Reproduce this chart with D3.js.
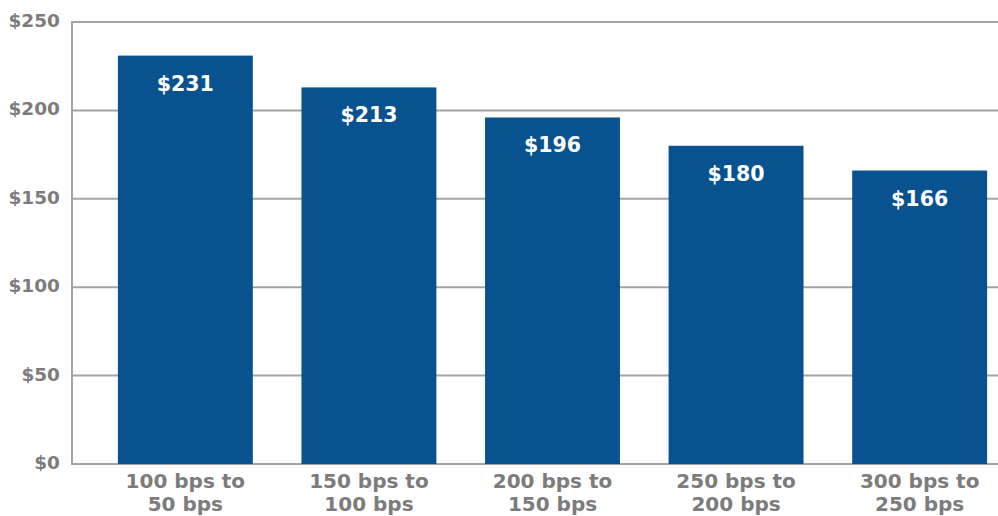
<!DOCTYPE html>
<html><head><meta charset="utf-8">
<script src="https://cdn.jsdelivr.net/npm/d3@7"></script>
<style>body{margin:0;background:#fff}svg{display:block}</style>
</head><body>
<svg id="c" width="998" height="516"></svg>
<script>
const categories = ["100 bps to|50 bps","150 bps to|100 bps","200 bps to|150 bps","250 bps to|200 bps","300 bps to|250 bps"];
const values = [231, 213, 196, 180, 166];
const yTicks = [0, 50, 100, 150, 200, 250];

(function() {
const svg = d3.select("#c");
const mLeft = 72, mRight = 998, mTop = 22, mBottom = 464;
const x = d3.scaleBand().domain(categories).range([mLeft, 1033]).paddingInner(0.265).paddingOuter(0.25);
const y = d3.scaleLinear().domain([0, 250]).range([mBottom, mTop]);
const grey = "#7c7c7c";
const font = "'DejaVu Sans', Verdana, sans-serif";

svg.append("g").selectAll("line").data(yTicks).join("line")
  .attr("x1", mLeft).attr("x2", mRight)
  .attr("y1", d => y(d)).attr("y2", d => y(d))
  .attr("stroke", "#a4a4a4").attr("stroke-width", 2);
svg.append("line").attr("x1", mLeft).attr("x2", mLeft).attr("y1", mTop - 1).attr("y2", mBottom + 1)
  .attr("stroke", "#a4a4a4").attr("stroke-width", 2);

svg.append("g").selectAll("text").data(yTicks).join("text")
  .attr("x", 60).attr("y", d => y(d) + 5)
  .attr("text-anchor", "end").attr("fill", grey)
  .attr("font-family", font).attr("font-weight", "bold").attr("font-size", 18.5)
  .text(d => "$" + d);

svg.append("g").selectAll("rect").data(values).join("rect")
  .attr("x", (d, i) => x(categories[i]))
  .attr("width", x.bandwidth())
  .attr("y", d => y(d))
  .attr("height", d => mBottom - y(d))
  .attr("fill", "#08538f");

svg.append("g").selectAll("text").data(values).join("text")
  .attr("x", (d, i) => x(categories[i]) + x.bandwidth() / 2)
  .attr("y", d => y(d) + 35)
  .attr("text-anchor", "middle").attr("fill", "#fff")
  .attr("font-family", font).attr("font-weight", "bold").attr("font-size", 20.5)
  .text(d => "$" + d);

const cl = svg.append("g").selectAll("text").data(categories).join("text")
  .attr("text-anchor", "middle").attr("fill", grey)
  .attr("font-family", font).attr("font-weight", "bold").attr("font-size", 20);
cl.each(function(d) {
  const cx = x(d) + x.bandwidth() / 2;
  const parts = d.split("|");
  d3.select(this).selectAll("tspan").data(parts).join("tspan")
    .attr("x", cx).attr("y", (p, j) => 488 + j * 23).text(p => p);
});
})();
</script>
</body></html>
